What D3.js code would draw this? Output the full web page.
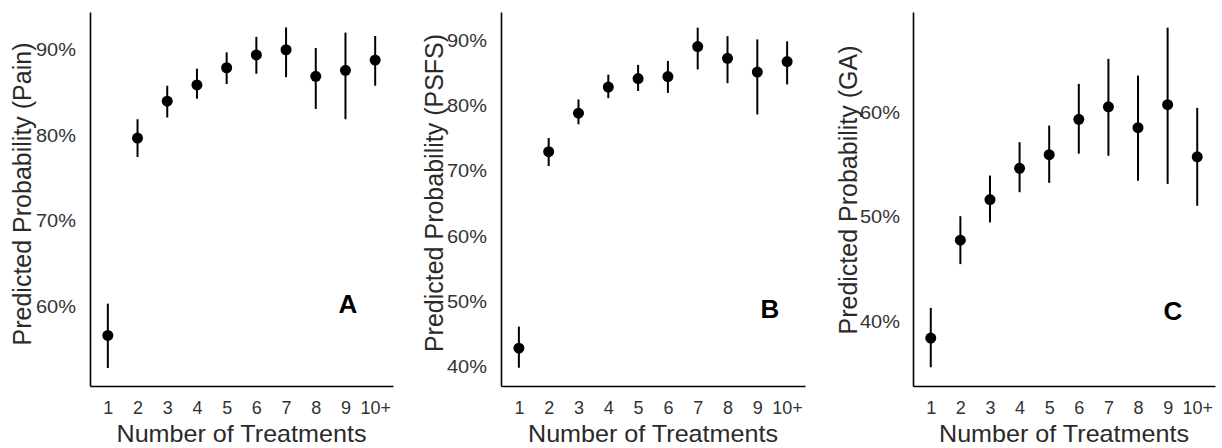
<!DOCTYPE html>
<html>
<head>
<meta charset="utf-8">
<script src="https://cdn.jsdelivr.net/npm/d3@7"></script>
<style>
  body { margin: 0; background: #fff; }
  svg { display: block; font-family: "Liberation Sans", Arial, sans-serif; }
</style>
</head>
<body>
<svg width="1222" height="448"></svg>
<script>
// categories on the x axis
const categories = ['1', '2', '3', '4', '5', '6', '7', '8', '9', '10+'];

// panel A - pain (percent)
const painEst = [56.7, 79.7, 84.0, 85.9, 87.9, 89.4, 90.0, 86.9, 87.6, 88.8];
const painLo  = [52.9, 77.5, 82.1, 84.3, 86.0, 87.2, 86.8, 83.1, 81.9, 85.8];
const painHi  = [60.4, 81.9, 85.8, 87.8, 89.7, 91.5, 92.6, 90.2, 92.0, 91.6];
const painTicks = [60, 70, 80, 90];

// panel B - PSFS (percent)
const psfsEst = [42.9, 73.0, 78.9, 82.9, 84.2, 84.5, 89.1, 87.3, 85.2, 86.8];
const psfsLo  = [39.9, 70.8, 77.2, 81.2, 82.3, 82.0, 85.6, 83.5, 78.7, 83.3];
const psfsHi  = [46.2, 75.1, 81.0, 84.8, 86.3, 86.9, 92.0, 90.7, 90.2, 89.9];
const psfsTicks = [40, 50, 60, 70, 80, 90];

// panel C - GA (percent)
const gaEst = [38.4, 47.8, 51.7, 54.7, 56.0, 59.4, 60.6, 58.6, 60.8, 55.8];
const gaLo  = [35.6, 45.5, 49.5, 52.4, 53.3, 56.1, 55.9, 53.5, 53.2, 51.1];
const gaHi  = [41.3, 50.1, 54.0, 57.2, 58.8, 62.8, 65.2, 63.6, 68.2, 60.5];
const gaTicks = [40, 50, 60];

const svg = d3.select('svg');

// layout of each panel (pixels) and y domain
const panels = [
    { est: painEst, lo: painLo, hi: painHi, ticks: painTicks, domain: [50.8, 94.4],
      left: 90, right: 393, title: 'Predicted Probability (Pain)', titleX: 31, titleY: 194,
      tag: 'A', tagX: 348, tagY: 313, pad: 14 },
    { est: psfsEst, lo: psfsLo, hi: psfsHi, ticks: psfsTicks, domain: [37.1, 94.4],
      left: 501, right: 805, title: 'Predicted Probability (PSFS)', titleX: 443, titleY: 193,
      tag: 'B', tagX: 770, tagY: 318, pad: 14 },
    { est: gaEst, lo: gaLo, hi: gaHi, ticks: gaTicks, domain: [33.8, 69.7],
      left: 913, right: 1215, title: 'Predicted Probability (GA)', titleX: 857, titleY: 190,
      tag: 'C', tagX: 1173, tagY: 320, pad: 13 }
];

const plotTop = 12, plotBottom = 386;

function drawPanel(p) {
    const x = d3.scalePoint().domain(categories).range([p.left, p.right]).padding(0.6);
    const y = d3.scaleLinear().domain(p.domain).range([plotBottom, plotTop]);
    const g = svg.append('g');

    // y axis
    const ya = g.append('g')
        .attr('transform', 'translate(' + p.left + ',0)')
        .call(d3.axisLeft(y).tickValues(p.ticks).tickSize(0).tickPadding(p.pad)
            .tickFormat(d => d + '%'));
    ya.attr('font-size', null).attr('font-family', null);
    ya.select('.domain').attr('stroke', '#000').attr('stroke-width', 1.6);
    ya.selectAll('text')
        .style('font-size', '17.5px').attr('fill', '#333')
        .attr('textLength', 40).attr('lengthAdjust', 'spacingAndGlyphs');

    // x axis
    const xa = g.append('g')
        .attr('transform', 'translate(0,' + plotBottom + ')')
        .call(d3.axisBottom(x).tickSize(0).tickPadding(15));
    xa.attr('font-size', null).attr('font-family', null);
    xa.select('.domain').attr('stroke', '#000').attr('stroke-width', 1.6);
    xa.selectAll('text').style('font-size', '18px').attr('fill', '#333');

    // axis titles
    g.append('text')
        .attr('transform', 'translate(' + p.titleX + ',' + p.titleY + ') rotate(-90)')
        .attr('text-anchor', 'middle')
        .style('font-size', '25px').attr('fill', '#2a2a2a')
        .text(p.title);
    g.append('text')
        .attr('x', (p.left + p.right) / 2).attr('y', 442)
        .attr('text-anchor', 'middle')
        .style('font-size', '24px').attr('fill', '#2a2a2a')
        .attr('textLength', 250).attr('lengthAdjust', 'spacingAndGlyphs')
        .text('Number of Treatments');

    // error bars and points
    g.selectAll('line.ci')
        .data(categories)
        .enter().append('line')
        .attr('class', 'ci')
        .attr('x1', d => x(d)).attr('x2', d => x(d))
        .attr('y1', (d, i) => y(p.lo[i])).attr('y2', (d, i) => y(p.hi[i]))
        .attr('stroke', '#000').attr('stroke-width', 2);
    g.selectAll('circle')
        .data(categories)
        .enter().append('circle')
        .attr('cx', d => x(d)).attr('cy', (d, i) => y(p.est[i]))
        .attr('r', 5.5).attr('fill', '#000');

    // panel letter
    g.append('text')
        .attr('x', p.tagX).attr('y', p.tagY)
        .attr('text-anchor', 'middle')
        .style('font-size', '26px').attr('font-weight', 'bold').attr('fill', '#000')
        .text(p.tag);
}

panels.forEach(drawPanel);
</script>
</body>
</html>
